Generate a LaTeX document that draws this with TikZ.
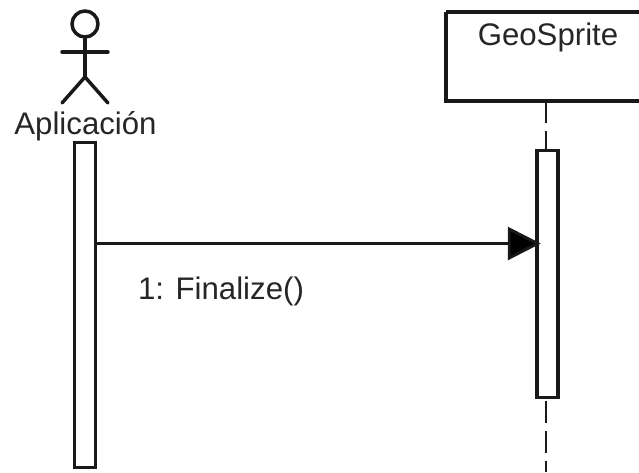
\documentclass[tikz,border=0pt]{standalone}
\usepackage{fontspec}
\setmainfont{Liberation Sans}
\usetikzlibrary{arrows.meta}
\tikzset{
  x=0.75pt,y=-0.75pt,
  lbl/.style={inner sep=0pt,font=\fontsize{23.4}{26}\selectfont,text=black!85},
  actline/.style={draw=black!90,line width=2.6pt,fill=white,inner sep=0pt,minimum width=15.5pt},
  stick/.style={draw=black!90,line width=2.6pt,line cap=round},
  life/.style={draw=black!90,line width=2.2pt,dash pattern=on 16.5pt off 6pt},
  msg/.style={draw=black!90,line width=2.2pt,-{Triangle[length=24.75pt,width=24.75pt,fill=black]},shorten >=-4pt},
}
\begin{document}
\begin{tikzpicture}
\useasboundingbox (0,0) rectangle (639,472);
\fill[white] (0,0) rectangle (639,472);
% actor
\node[circle,draw=black!90,line width=2.6pt,minimum size=19.5pt,inner sep=0pt] (head) at (85,24) {};
\coordinate (hip) at (85,77);
\coordinate (armL) at (62,52);
\coordinate (armR) at (108,52);
\coordinate (legL) at (62,103);
\coordinate (legR) at (108,103);
\draw[stick] (head.south) -- (hip);
\draw[stick] (armL) -- (armR);
\draw[stick] (legL) -- (hip) -- (legR);
\node[lbl] (actor) at (85.5,126) {Aplicación};
% lifeline
\path[draw=black!90,line width=3pt,fill=white] (446,12) -- (446,101) -- (640,101) (640,12) -- (446,12);
\coordinate (boxbottom) at (546,101);
\coordinate (lifeend) at (546,472);
\draw[life] (boxbottom) -- (lifeend);
\node[lbl] (geo) at (548,37) {GeoSprite};
% activations
\node[actline,minimum height=244pt] (actA) at (85,305) {};
\node[actline,minimum height=185pt] (actB) at (547.5,274) {};
% message
\coordinate (msgStart) at (actA.east |- 0,243.5);
\coordinate (msgEnd) at (actB.west |- 0,243.5);
\draw[msg] (msgStart) -- (msgEnd);
\node[lbl] (m1) at (221,291) {1: Finalize()};
\end{tikzpicture}
\end{document}
